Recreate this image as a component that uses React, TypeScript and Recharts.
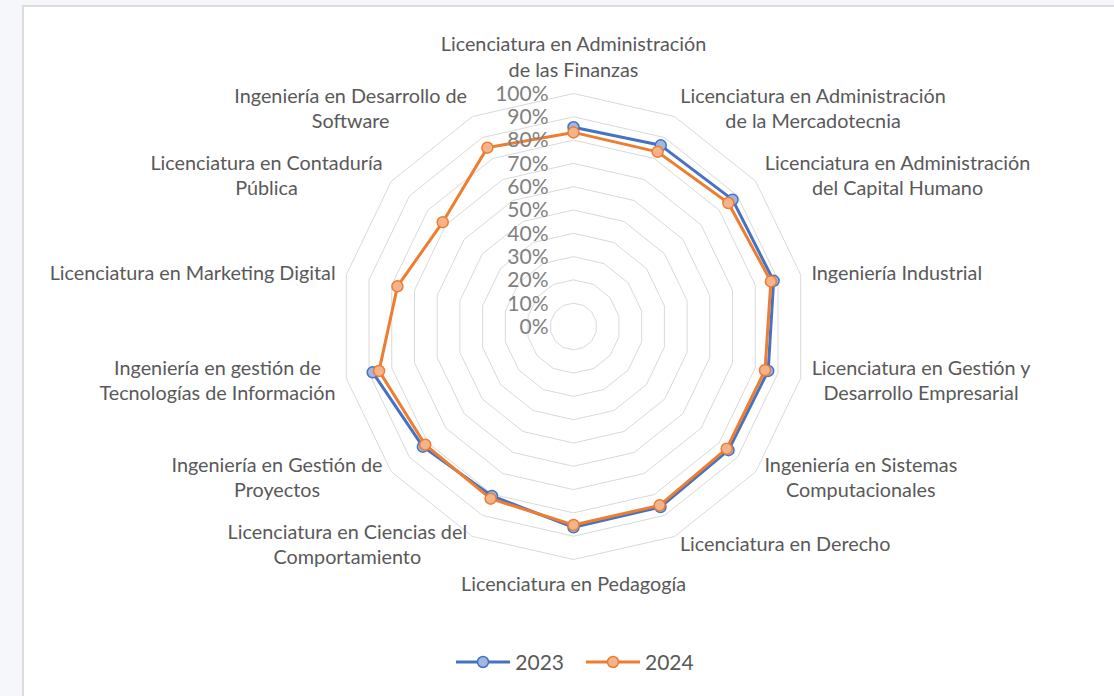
import React from 'react';
import {
	Legend,
	PolarAngleAxis,
	PolarGrid,
	PolarRadiusAxis,
	Radar,
	RadarChart,
} from 'recharts';

// program names, clockwise from the top
const categories = [
	'Licenciatura en Administración\nde las Finanzas',
	'Licenciatura en Administración\nde la Mercadotecnia',
	'Licenciatura en Administración\ndel Capital Humano',
	'Ingeniería Industrial',
	'Licenciatura en Gestión y\nDesarrollo Empresarial',
	'Ingeniería en Sistemas\nComputacionales',
	'Licenciatura en Derecho',
	'Licenciatura en Pedagogía',
	'Licenciatura en Ciencias del\nComportamiento',
	'Ingeniería en Gestión de\nProyectos',
	'Ingeniería en gestión de\nTecnologías de Información',
	'Licenciatura en Marketing Digital',
	'Licenciatura en Contaduría\nPública',
	'Ingeniería en Desarrollo de\nSoftware',
];

// percentages; 2023 has no value for the last three programs
const values2023 = [85.5, 86.3, 87.3, 88.1, 85.7, 85.1, 86, 86.2, 80.7, 82.7, 88.4, null, null, null];
const values2024 = [83.3, 83.2, 85, 86.9, 84.3, 84.1, 85.2, 85.2, 82, 81.4, 85.6, 77.5, 71.8, 85.2];

const radiusTicks = [0, 10, 20, 30, 40, 50, 60, 70, 80, 90, 100];

const seriesNames = ['2023', '2024'];
const seriesValues = [values2023, values2024];
const seriesColors = ['#4472C4', '#ED7D31'];
const markerFills = ['#A2B6E0', '#F5B38A'];

const CX = 573.5;
const CY = 326.5;
const R = 233;
const FONT = 'Lato, "Open Sans", sans-serif';
const LABEL_SIZE = 19.8;
const LINE_H = 25.5;

const data = categories.map((c, i) => ({
	category: c,
	y2023: values2023[i],
	y2024: values2024[i],
}));

let ctx: CanvasRenderingContext2D | null = null;
const textWidth = (s: string, font: string) => {
	if (!ctx) ctx = document.createElement('canvas').getContext('2d');
	if (!ctx) return s.length * 8;
	ctx.font = font;
	return ctx.measureText(s).width;
};

// category labels sit just outside the outer ring, lines centred inside their block
const CategoryTick = (props: any) => {
	const { x, y, payload } = props;
	const lines = String(payload.value).split('\n');
	const dx = x - CX;
	const dy = y - CY;
	const len = Math.hypot(dx, dy) || 1;
	const ux = dx / len;
	const uy = dy / len;
	const vx = CX + ux * R;
	const vy = CY + uy * R;
	const n = lines.length;
	const w = Math.max(...lines.map((l) => textWidth(l, `${LABEL_SIZE}px ${FONT}`)));
	let centerX: number;
	let firstY: number;
	if (Math.abs(ux) < 0.05) {
		centerX = vx;
		firstY = uy < 0 ? vy - 23.5 - (n - 1) * LINE_H : vy + 24.5;
	} else {
		const gap = 10 * Math.abs(ux) + 1;
		centerX = ux > 0 ? vx + gap + w / 2 : vx - gap - w / 2;
		firstY = vy + uy * 9 - ((n - 1) * LINE_H) / 2;
	}
	return (
		<text textAnchor="middle" fill="#595959" fontSize={LABEL_SIZE} fontFamily={FONT}>
			{lines.map((l, i) => (
				<tspan key={i} x={centerX} y={firstY + i * LINE_H} dy="0.35em">
					{l}
				</tspan>
			))}
		</text>
	);
};

const RadiusTick = (props: any) => {
	const { x, y, payload } = props;
	return (
		<text x={x - 25} y={y} dy="0.35em" textAnchor="end" fill="#808080" fontSize={21} fontFamily={FONT}>
			{`${payload.value}%`}
		</text>
	);
};

// line through the points that have a value, leaving gaps where the value is missing
const makeShape = (values: (number | null)[]) => (props: any) => {
	const pts: any[] = props.points || [];
	const n = pts.length;
	const ok = (i: number) => values[i] != null;
	let start = pts.findIndex((_, i) => ok(i) && !ok((i - 1 + n) % n));
	let closed = false;
	if (start < 0) {
		start = 0;
		closed = true;
	}
	let d = '';
	let pen = false;
	for (let k = 0; k < n; k++) {
		const i = (start + k) % n;
		if (!ok(i)) {
			pen = false;
			continue;
		}
		d += `${pen ? 'L' : 'M'}${pts[i].x},${pts[i].y}`;
		pen = true;
	}
	if (closed) d += 'Z';
	return (
		<path
			d={d}
			fill="none"
			stroke={props.stroke}
			strokeWidth={props.strokeWidth}
			strokeLinejoin="round"
		/>
	);
};

const makeDot = (values: (number | null)[], stroke: string, fill: string) => (props: any) => {
	const { cx, cy, index } = props;
	if (values[index] == null || !Number.isFinite(cx)) return <g key={index} />;
	return <circle key={index} cx={cx} cy={cy} r={5.5} fill={fill} stroke={stroke} strokeWidth={1.5} />;
};

const LegendContent = () => (
	<div
		style={{
			display: 'flex',
			justifyContent: 'center',
			alignItems: 'center',
			fontFamily: FONT,
			fontSize: 21,
			color: '#595959',
		}}
	>
		{seriesNames.map((name, i) => (
			<div key={name} style={{ display: 'flex', alignItems: 'center', marginRight: i === 0 ? 22 : 0 }}>
				<svg width={54} height={14} style={{ marginRight: 5 }}>
					<line x1={0} y1={7} x2={54} y2={7} stroke={seriesColors[i]} strokeWidth={3} />
					<circle cx={27} cy={7} r={5.5} fill={markerFills[i]} stroke={seriesColors[i]} strokeWidth={1.5} />
				</svg>
				<span>{name}</span>
			</div>
		))}
	</div>
);

export default function App() {
	return (
		<div
			style={{
				position: 'absolute',
				left: 0,
				top: 0,
				width: 1114,
				height: 696,
				overflow: 'hidden',
				background: '#f6f7fa',
			}}
		>
			<div
				style={{
					position: 'absolute',
					left: 22,
					top: 5,
					width: 1110,
					height: 710,
					background: '#fff',
					border: '2px solid #dcdcdc',
				}}
			/>
			<div style={{ position: 'absolute', left: 0, top: 0 }}>
				<RadarChart
					width={1114}
					height={696}
					data={data}
					cx={CX}
					cy={CY}
					outerRadius={R}
					margin={{ top: 0, right: 0, bottom: 0, left: 0 }}
				>
					<PolarGrid gridType="polygon" radialLines={false} stroke="#d9d9d9" />
					<PolarAngleAxis dataKey="category" tick={CategoryTick} tickLine={false} axisLine={false} />
					<PolarRadiusAxis
						angle={90}
						domain={[0, 100]}
						ticks={radiusTicks}
						tick={RadiusTick}
						axisLine={false}
						tickLine={false}
					/>
					{seriesNames.map((name, s) => (
						<Radar
							key={name}
							name={name}
							dataKey={`y${name}`}
							stroke={seriesColors[s]}
							strokeWidth={3}
							fill="none"
							fillOpacity={0}
							shape={makeShape(seriesValues[s])}
							dot={makeDot(seriesValues[s], seriesColors[s], markerFills[s])}
							activeDot={false}
							isAnimationActive={false}
						/>
					))}
					<Legend
						content={LegendContent}
						wrapperStyle={{ position: 'absolute', top: 649, left: 18, width: 1114 }}
					/>
				</RadarChart>
			</div>
		</div>
	);
}
